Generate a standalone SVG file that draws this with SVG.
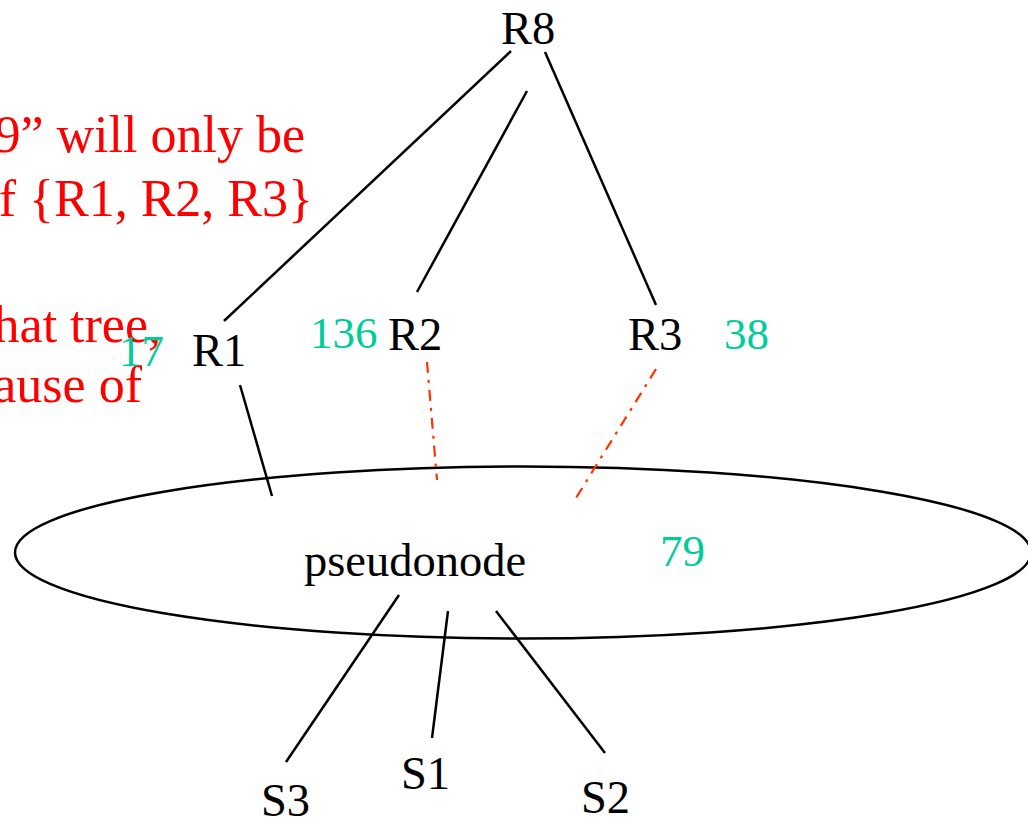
<svg xmlns="http://www.w3.org/2000/svg" width="1028" height="822" viewBox="0 0 1028 822">
<style>
.lbl{font-family:"Liberation Serif","Times New Roman",serif;font-size:46.5px;fill:#000}
.num{font-family:"Liberation Serif","Times New Roman",serif;font-size:45px;fill:#00CC99}
.note{font-family:"Liberation Serif","Times New Roman",serif;font-size:52px;fill:#FF0000}
.ln{stroke:#000;stroke-width:2.5;fill:none}
.dd{stroke:#FF3300;stroke-width:2.2;fill:none;stroke-dasharray:11 7 3 7}
</style>
<rect width="1028" height="822" fill="#fff"/>
<g id="notes">
<text class="note" x="305" y="152" text-anchor="end">9” will only be</text>
<text class="note" x="313" y="216" text-anchor="end">f {R1, R2, R3}</text>
<text class="note" x="161" y="342" text-anchor="end">hat tree,</text>
<text class="note" x="142" y="402" text-anchor="end">ause of</text>
</g>
<g id="pseudonode">
<ellipse class="ln" cx="523" cy="552.5" rx="508" ry="86"/>
<text class="lbl" x="304" y="576">pseudonode</text>
<text class="num" x="660" y="566">79</text>
</g>
<g id="connectors">
<line class="ln" x1="511" y1="51" x2="224" y2="321"/>
<line class="ln" x1="527" y1="91" x2="417" y2="292"/>
<line class="ln" x1="545" y1="52" x2="656" y2="305"/>
<line class="ln" x1="240" y1="385" x2="272" y2="496"/>
<line class="dd" x1="427" y1="362" x2="437" y2="480"/>
<line class="dd" x1="656" y1="369" x2="576" y2="498"/>
<line class="ln" x1="399" y1="595" x2="286" y2="762"/>
<line class="ln" x1="448" y1="611" x2="432" y2="738"/>
<line class="ln" x1="496" y1="611" x2="605" y2="753"/>
</g>
<g id="R8"><text class="lbl" x="501" y="44">R8</text></g>
<g id="R1"><text class="lbl" x="192" y="366">R1</text><text class="num" x="119" y="366">17</text></g>
<g id="R2"><text class="lbl" x="388" y="350">R2</text><text class="num" x="310" y="348">136</text></g>
<g id="R3"><text class="lbl" x="628" y="350">R3</text><text class="num" x="724" y="349">38</text></g>
<g id="S3"><text class="lbl" x="261" y="816">S3</text></g>
<g id="S1"><text class="lbl" x="401" y="789">S1</text></g>
<g id="S2"><text class="lbl" x="581" y="813">S2</text></g>
</svg>
